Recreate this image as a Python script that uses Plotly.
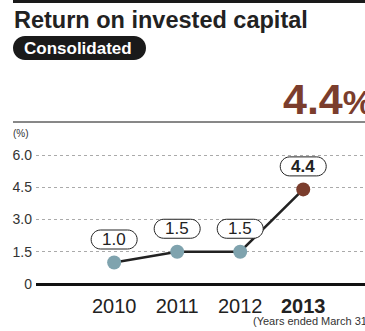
import plotly.graph_objects as go

years = [2010, 2011, 2012, 2013]
year_labels = ["2010", "2011", "2012", "<b>2013</b>"]
roic = [1.0, 1.5, 1.5, 4.4]
value_labels = ["1.0", "1.5", "1.5", "<b>4.4</b>"]
y_ticks = [0, 1.5, 3.0, 4.5, 6.0]
y_tick_labels = ["0", "1.5", "3.0", "4.5", "6.0"]

TEAL = "#7fa3ae"
BROWN = "#7b3d2d"
DARK = "#222222"
FONT = "Liberation Sans, Arial, sans-serif"

W, H = 365, 331
L, T, B = 36, 150, 47
PW, PH = W - L, H - T - B


def px(x):
    return (x - L) / PW


def py(y):
    return (H - B - y) / PH


def rounded(w, h, r, dy=0):
    k = 0.5523 * r
    x0, x1 = -w / 2, w / 2
    y0, y1 = dy - h / 2, dy + h / 2
    return (
        f"M{x0 + r},{y0} L{x1 - r},{y0} "
        f"C{x1 - r + k},{y0} {x1},{y0 + r - k} {x1},{y0 + r} "
        f"L{x1},{y1 - r} "
        f"C{x1},{y1 - r + k} {x1 - r + k},{y1} {x1 - r},{y1} "
        f"L{x0 + r},{y1} "
        f"C{x0 + r - k},{y1} {x0},{y1 - r + k} {x0},{y1 - r} "
        f"L{x0},{y0 + r} "
        f"C{x0},{y0 + r - k} {x0 + r - k},{y0} {x0 + r},{y0} Z"
    )


fig = go.Figure()

fig.add_trace(
    go.Scatter(
        x=years,
        y=roic,
        mode="lines+markers",
        line=dict(color=DARK, width=2.5),
        marker=dict(size=14, color=[TEAL, TEAL, TEAL, BROWN]),
        cliponaxis=False,
        hoverinfo="skip",
    )
)

shapes = [
    # top bar
    dict(type="rect", xref="paper", yref="paper", x0=px(13), x1=1,
         y0=py(0), y1=py(3), fillcolor="#1a1a1a", line=dict(width=0)),
    # separator line
    dict(type="line", xref="paper", yref="paper", x0=px(13), x1=1,
         y0=py(122), y1=py(122), line=dict(color="#111", width=1)),
    # consolidated pill
    dict(type="path", xref="paper", yref="paper", xsizemode="pixel",
         ysizemode="pixel", xanchor=px(79.5), yanchor=py(48),
         path=rounded(133, 24, 12), fillcolor="#1a1a1a", line=dict(width=0)),
]

annotations = [
    dict(text="<b>Return on invested capital</b>", x=px(12), y=py(20),
         xanchor="left", yanchor="middle", font=dict(size=23.5, color="#222")),
    dict(text="<b>Consolidated</b>", x=px(78), y=py(48),
         xanchor="center", yanchor="middle",
         font=dict(size=17, color="white")),
    dict(text="<b>4.4<span style='font-size:34px'>%</span></b>",
         x=px(281), y=py(99), xanchor="left", yanchor="middle",
         font=dict(size=43, color=BROWN)),
    dict(text="(%)", x=px(11), y=py(133), xanchor="left", yanchor="middle",
         font=dict(size=10, color="#333")),
    dict(text="(Years ended March 31)", x=px(373), y=py(321),
         xanchor="right", yanchor="middle",
         font=dict(size=11, color="#333")),
]
for a in annotations:
    a.update(xref="paper", yref="paper", showarrow=False)

for yr, v, lab in zip(years, roic, value_labels):
    shapes.append(
        dict(type="path", xref="x", yref="y", xsizemode="pixel",
             ysizemode="pixel", xanchor=yr, yanchor=v,
             path=rounded(46, 19, 9.5, dy=23), fillcolor="white",
             line=dict(color="#222", width=1))
    )
    annotations.append(
        dict(text=lab, x=yr, y=v, xref="x", yref="y", yshift=23,
             showarrow=False, xanchor="center", yanchor="middle",
             font=dict(size=17, color="#222"))
    )

fig.update_layout(
    width=W,
    height=H,
    margin=dict(l=L, r=0, t=T, b=B),
    paper_bgcolor="white",
    plot_bgcolor="white",
    font=dict(family=FONT, color="#333"),
    showlegend=False,
    shapes=shapes,
    annotations=annotations,
    xaxis=dict(
        range=[2010 - 1.24, 2013 + 0.98],
        tickvals=years,
        ticktext=year_labels,
        showgrid=False,
        zeroline=False,
        showline=False,
        ticks="",
        ticklabelstandoff=8,
        tickfont=dict(size=20, color="#222"),
        fixedrange=True,
    ),
    yaxis=dict(
        range=[0, PH / 21.5],
        tickvals=y_ticks,
        ticktext=y_tick_labels,
        showgrid=True,
        gridcolor="#aaaaaa",
        griddash="dot",
        gridwidth=1,
        zeroline=True,
        zerolinecolor="#111",
        zerolinewidth=2.5,
        showline=False,
        ticks="",
        ticklabelstandoff=3,
        tickfont=dict(size=14, color="#333"),
        fixedrange=True,
    ),
)

fig.write_html(
    "out.html",
    config=dict(displayModeBar=False),
    post_script="document.body.style.margin='0';",
)
